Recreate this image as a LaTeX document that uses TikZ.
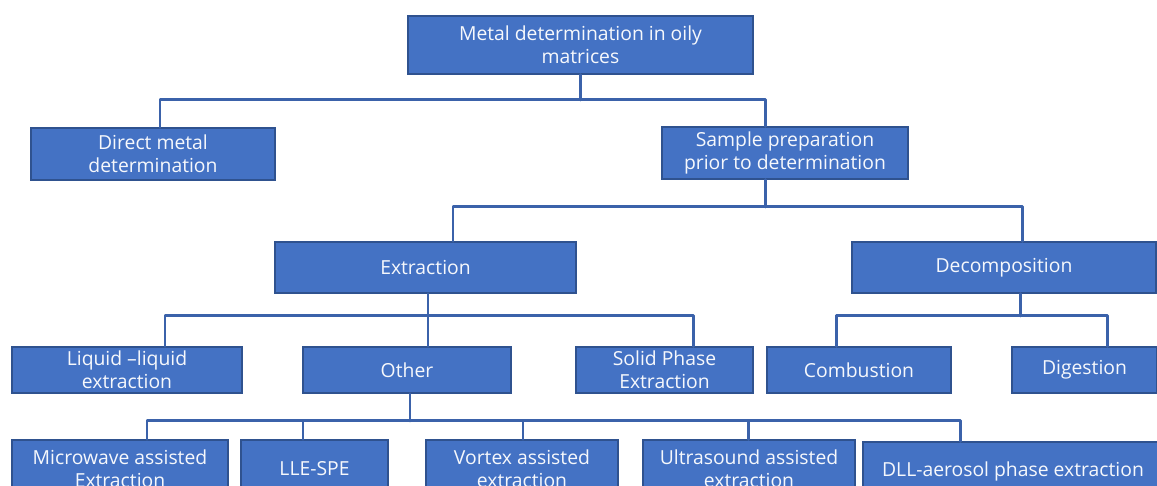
\documentclass[tikz,border=0pt]{standalone}
\usepackage{fontspec}
\setmainfont{Open Sans}
\definecolor{boxfill}{HTML}{4472C4}
\definecolor{boxline}{HTML}{2F528F}
\definecolor{linkcolor}{HTML}{3B62AA}
\tikzset{
    box/.style={draw=boxline, fill=boxfill, line width=0.4pt, text=white!95!boxfill, align=center,
        inner sep=0pt, font=\fontsize{5.5}{6.5}\selectfont},
    link/.style={draw=linkcolor, line width=0.85pt, line join=round, line cap=round}
}

\begin{document}
\begin{tikzpicture}[x=0.01cm, y=-0.01cm]

    \useasboundingbox (0,0) rectangle (1157,486);
    \clip (0,0) rectangle (1157,486);

    % Top level
    \node[box, minimum width=3.45cm, minimum height=0.58cm] (root) at (580.5,45) {Metal determination in oily\\matrices};
    \node[box, minimum width=2.44cm, minimum height=0.52cm] (direct) at (153,154) {Direct metal\\determination};
    \node[box, minimum width=2.46cm, minimum height=0.52cm] (sample) at (785,153) {Sample preparation\\prior to determination};

    % Second level
    \node[box, minimum width=3.01cm, minimum height=0.51cm] (extraction) at (425.5,267.5) {Extraction};
    \node[box, minimum width=3.04cm, minimum height=0.51cm] (decomposition) at (1004,267.5) {Decomposition};

    % Third level
    \node[box, minimum width=2.30cm, minimum height=0.46cm] (liquid) at (127,370) {Liquid --liquid\\extraction};
    \node[box, minimum width=2.08cm, minimum height=0.46cm] (other) at (407,370) {Other};
    \node[box, minimum width=1.77cm, minimum height=0.46cm] (solid) at (664.5,370) {Solid Phase\\Extraction};
    \node[box, minimum width=1.84cm, minimum height=0.46cm] (combustion) at (859,370) {Combustion};
    \node[box, minimum width=1.45cm, minimum height=0.46cm] (digestion) at (1084.5,370) {Digestion};

    % Bottom row (cut at the lower edge)
    \node[box, minimum width=2.16cm, minimum height=0.58cm] (microwave) at (120,469) {Microwave assisted\\Extraction};
    \node[box, minimum width=1.47cm, minimum height=0.58cm] (llespe) at (314.5,469) {LLE-SPE};
    \node[box, minimum width=1.92cm, minimum height=0.58cm] (vortex) at (522,469) {Vortex assisted\\extraction};
    \node[box, minimum width=2.12cm, minimum height=0.58cm] (ultrasound) at (749,469) {Ultrasound assisted\\extraction};
    \node[box, minimum width=3.00cm, minimum height=0.58cm] (dll) at (1013,471) {DLL-aerosol phase extraction};

    % --- Connectors ---
    \coordinate (toDirect) at (160,100);
    \coordinate (toSample) at (765,100);
    \draw[link] (root.south) -- (root.south |- toDirect);
    \draw[link] (direct.north -| toDirect) -- (toDirect) -- (toSample) -- (sample.north -| toSample);

    \coordinate (fromSample) at (765,207);
    \coordinate (toExtraction) at (453,207);
    \coordinate (toDecomp) at (1022,207);
    \draw[link] (sample.south -| fromSample) -- (fromSample);
    \draw[link] (extraction.north -| toExtraction) -- (toExtraction) -- (toDecomp) -- (decomposition.north -| toDecomp);

    \coordinate (fromExtraction) at (428,316);
    \coordinate (toLiquid) at (165,316);
    \coordinate (toSolid) at (693,316);
    \draw[link] (extraction.south -| fromExtraction) -- (other.north -| fromExtraction);
    \draw[link] (liquid.north -| toLiquid) -- (toLiquid) -- (toSolid) -- (solid.north -| toSolid);

    \coordinate (fromDecomp) at (1020,316);
    \coordinate (toCombustion) at (836,316);
    \coordinate (toDigestion) at (1107,316);
    \draw[link] (decomposition.south -| fromDecomp) -- (fromDecomp);
    \draw[link] (combustion.north -| toCombustion) -- (toCombustion) -- (toDigestion) -- (digestion.north -| toDigestion);

    \coordinate (fromOther) at (410,421);
    \coordinate (toMicrowave) at (147,421);
    \coordinate (toLlespe) at (303,421);
    \coordinate (toVortex) at (523,421);
    \coordinate (toUltrasound) at (748,421);
    \coordinate (toDll) at (960,421);
    \draw[link] (other.south -| fromOther) -- (fromOther);
    \draw[link] (microwave.north -| toMicrowave) -- (toMicrowave) -- (toDll) -- (dll.north -| toDll);
    \draw[link] (llespe.north -| toLlespe) -- (toLlespe);
    \draw[link] (vortex.north -| toVortex) -- (toVortex);
    \draw[link] (ultrasound.north -| toUltrasound) -- (toUltrasound);

\end{tikzpicture}
\end{document}
